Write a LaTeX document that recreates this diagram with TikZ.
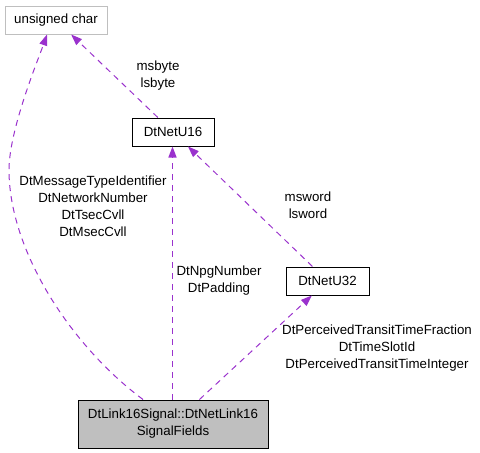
\documentclass[tikz,border=0pt]{standalone}
\usepackage{fontspec}
\setmainfont{Liberation Sans}
\usetikzlibrary{arrows.meta}
\definecolor{relcol}{HTML}{9A32CD}
\definecolor{boxgray}{HTML}{BFBFBF}

\begin{document}
\begin{tikzpicture}[x=1pt, y=-1pt,
    font=\fontsize{13.3}{17}\selectfont,
    cls/.style={draw=black, line width=1pt, fill=white, minimum height=28pt, inner sep=2pt},
    rel/.style={draw=relcol, line width=1pt, dash pattern=on 6pt off 5pt,
      -{Triangle[length=11pt, width=8pt]}},
    lbl/.style={align=center, inner sep=0pt}]
    \useasboundingbox (0, 0) rectangle (480, 453);

    \node[cls, draw=boxgray, minimum width=102pt] (uc) at (56, 20) {unsigned char};
    \node[cls, minimum width=82pt] (u16) at (173, 132) {DtNetU16};
    \node[cls, minimum width=83pt] (u32) at (327.5, 281) {DtNetU32};
    \node[cls, fill=boxgray, minimum width=190pt, minimum height=48pt, align=center] (main) at (173, 424)
      {DtLink16Signal::DtNetLink16\\SignalFields};

    \draw[rel] (u16) -- (uc);
    \draw[rel, line width=1.4pt] ([xshift=-0.5pt]main.north) -- ([xshift=-0.5pt]u16.south);
    \draw[rel] (u32) -- (u16);
    \draw[rel] (main) -- (u32);
    \draw[rel] ([xshift=-30pt]main.north) .. controls (70, 345) and (9, 250) .. (9, 170)
      .. controls (9, 130) and (38, 60) .. ([xshift=-9pt]uc.south);

    \node[lbl] (lbyte) at (158, 76) {msbyte\\lsbyte};
    \node[lbl] (lmsg) at (93, 206) {DtMessageTypeIdentifier\\DtNetworkNumber\\DtTsecCvll\\DtMsecCvll};
    \node[lbl] (lnpg) at (219, 281) {DtNpgNumber\\DtPadding};
    \node[lbl] (lword) at (308, 205) {msword\\lsword};
    \node[lbl] (ltime) at (377, 348) {DtPerceivedTransitTimeFraction\\DtTimeSlotId\\DtPerceivedTransitTimeInteger};
\end{tikzpicture}
\end{document}
